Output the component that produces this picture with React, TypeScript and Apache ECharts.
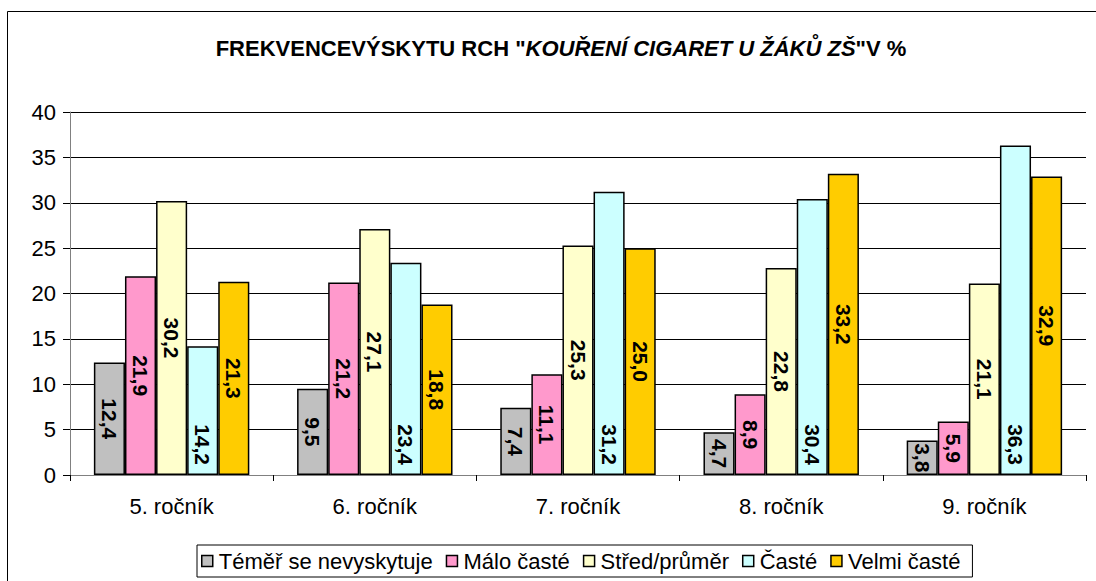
import React, { useEffect, useRef } from "react";
import * as echarts from "echarts";

const categories = ["5. ročník", "6. ročník", "7. ročník", "8. ročník", "9. ročník"];
const seriesNames = ["Téměř se nevyskytuje", "Málo časté", "Střed/průměr", "Časté", "Velmi časté"];
const temerSeNevyskytuje = [12.4, 9.5, 7.4, 4.7, 3.8];
const maloCaste = [21.9, 21.2, 11.1, 8.9, 5.9];
const stredPrumer = [30.2, 27.1, 25.3, 22.8, 21.1];
const caste = [14.2, 23.4, 31.2, 30.4, 36.3];
const velmiCaste = [21.3, 18.8, 25.0, 33.2, 32.9];
const yTicks = [0, 5, 10, 15, 20, 25, 30, 35, 40];

const colors = ["#C0C0C0", "#FF99CC", "#FFFFCC", "#CCFFFF", "#FFCC00"];
const FONT = "'Liberation Sans', Arial, sans-serif";

export default function App() {
  const ref = useRef<HTMLDivElement>(null);
  useEffect(() => {
    document.body.style.margin = "0";
    const chart = echarts.init(ref.current!, null, { renderer: "svg" });
    const data = [temerSeNevyskytuje, maloCaste, stredPrumer, caste, velmiCaste];
    const fmt = (p: any) => Number(p.value).toFixed(1).replace(".", ",");
    const labelBase = {
      show: true,
      rotate: -90,
      formatter: fmt,
      fontFamily: FONT,
      fontSize: 21,
      fontWeight: "bold",
      color: "#000",
    };
    chart.setOption({
      animation: false,
      backgroundColor: "#fff",
      textStyle: { fontFamily: FONT },
      title: {
        text: '{n|FREKVENCEVÝSKYTU RCH "}{i|KOUŘENÍ CIGARET U ŽÁKŮ ZŠ}{n|"V %}',
        left: 556,
        textAlign: "center",
        top: 32,
        textStyle: {
          rich: {
            n: { fontFamily: FONT, fontSize: 22, fontWeight: "bold", color: "#000" },
            i: { fontFamily: FONT, fontSize: 22, fontWeight: "bold", fontStyle: "italic", color: "#000" },
          },
        },
      },
      graphic: [
        {
          type: "rect",
          shape: { x: 7.5, y: 11.5, width: 1200, height: 700 },
          style: { fill: "none", stroke: "#000", lineWidth: 1 },
          silent: true,
          z: -10,
        },
      ],
      legend: {
        left: 197,
        top: 545,
        itemWidth: 11,
        itemHeight: 11,
        itemGap: 13,
        padding: [5, 12, 5, 4],
        borderColor: "#000",
        borderWidth: 1,
        icon: "rect",
        textStyle: { fontFamily: FONT, fontSize: 22, color: "#000", padding: [0, 0, 0, 1] },
        itemStyle: { borderColor: "#000", borderWidth: 1.5 },
        data: seriesNames,
      },
      grid: { left: 70, right: 10, top: 112, bottom: 106, containLabel: false },
      xAxis: {
        type: "category",
        data: categories,
        axisLine: { lineStyle: { color: "#808080", width: 1 } },
        axisTick: { show: true, length: 6, lineStyle: { color: "#000" } },
        axisLabel: { fontFamily: FONT, fontSize: 22, color: "#000", margin: 20 },
      },
      yAxis: {
        type: "value",
        min: 0,
        max: 40,
        interval: 5,
        axisLine: { show: true, lineStyle: { color: "#808080", width: 1 } },
        axisTick: { show: true, length: 7, lineStyle: { color: "#000" } },
        axisLabel: {
          fontFamily: FONT,
          fontSize: 22,
          color: "#000",
          margin: 14,
          formatter: (v: number) => (yTicks.includes(v) ? String(v) : ""),
        },
        splitLine: { show: true, lineStyle: { color: "#000", width: 1 } },
      },
      series: data.map((d, i) => ({
        name: seriesNames[i],
        type: "bar",
        data: d,
        barGap: "0%",
        barCategoryGap: "23.5%",
        itemStyle: { color: colors[i], borderColor: "#000", borderWidth: 1.5 },
        label: i === 3
          ? { ...labelBase, position: "insideBottom", align: "right", verticalAlign: "middle", distance: 10 }
          : { ...labelBase, position: "inside", align: "center", verticalAlign: "middle" },
      })),
    });
    return () => chart.dispose();
  }, []);
  return <div ref={ref} style={{ width: 1096, height: 581 }} />;
}
